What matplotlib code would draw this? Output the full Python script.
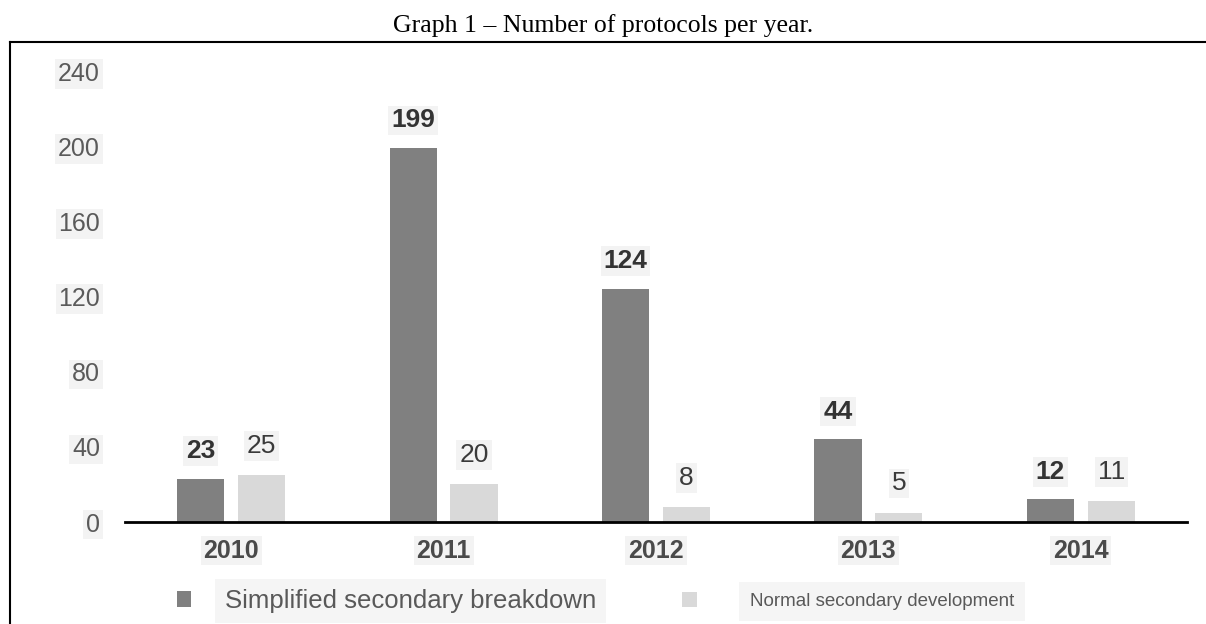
import matplotlib
matplotlib.use("Agg")
import matplotlib.pyplot as plt
import numpy as np
from matplotlib.lines import Line2D

years = ["2010", "2011", "2012", "2013", "2014"]
simplified = [23, 199, 124, 44, 12]
normal = [25, 20, 8, 5, 11]
yticks = [0, 40, 80, 120, 160, 200, 240]
series_names = ["Simplified secondary breakdown", "Normal secondary development"]
title = "Graph 1 \u2013 Number of protocols per year."

DARK = "#808080"
LIGHT = "#d9d9d9"
LBG = "#f3f3f3"

plt.rcParams["font.family"] = ["Liberation Sans", "DejaVu Sans"]

W, H = 1206, 624
fig = plt.figure(figsize=(W / 100, H / 100), dpi=100)
ax = fig.add_axes([125 / W, 1 - 522 / H, (1187 - 125) / W, (522 - 60) / H])

x = np.arange(len(years))
bw = 0.222
off = 0.143
b1 = ax.bar(x - off, simplified, bw, color=DARK, label=series_names[0])
b2 = ax.bar(x + off, normal, bw, color=LIGHT, label=series_names[1])

ax.set_xlim(-0.5, 4.5)
ax.set_ylim(0, 246)

for rect, v in zip(b1, simplified):
    ax.annotate(str(v), (rect.get_x() + rect.get_width() / 2, v), xytext=(0, 20),
                textcoords="offset points", ha="center", va="center",
                fontsize=19, fontweight="bold", color="#333333",
                bbox=dict(facecolor=LBG, edgecolor="none", pad=2))
for rect, v in zip(b2, normal):
    ax.annotate(str(v), (rect.get_x() + rect.get_width() / 2, v), xytext=(0, 21),
                textcoords="offset points", ha="center", va="center",
                fontsize=19, color="#3a3a3a",
                bbox=dict(facecolor=LBG, edgecolor="none", pad=2))

for s in ["top", "right", "left"]:
    ax.spines[s].set_visible(False)
ax.spines["bottom"].set_linewidth(2)
ax.spines["bottom"].set_color("black")

ax.set_yticks(yticks)
ax.set_yticklabels([str(t) for t in yticks])
ax.set_xticks(x)
ax.set_xticklabels(years)
ax.tick_params(axis="y", length=0, pad=18, labelsize=18, labelcolor="#5a5a5a")
ax.tick_params(axis="x", length=0, pad=12, labelsize=18, labelcolor="#4a4a4a")
for t in ax.get_xticklabels():
    t.set_fontweight("bold")
    t.set_bbox(dict(facecolor=LBG, edgecolor="none", pad=2))
for t in ax.get_yticklabels():
    t.set_bbox(dict(facecolor=LBG, edgecolor="none", pad=2))

# legends
leg1 = fig.legend(handles=[b1], labels=[series_names[0]], loc="center left",
                  bbox_to_anchor=(164 / W, 1 - 601 / H), frameon=False,
                  fontsize=18.5, handlelength=0.55, handleheight=0.55,
                  handletextpad=1.32, labelcolor="#595959", borderpad=0)
leg1.get_texts()[0].set_bbox(dict(facecolor="#f5f5f5", edgecolor="none", pad=7))
leg2 = fig.legend(handles=[b2], labels=[series_names[1]], loc="center left",
                  bbox_to_anchor=(673 / W, 1 - 601 / H), frameon=False,
                  fontsize=13.5, handlelength=0.8, handleheight=0.8,
                  handletextpad=2.8, labelcolor="#595959", borderpad=0)
leg2.get_texts()[0].set_bbox(dict(facecolor="#f5f5f5", edgecolor="none", pad=8))
fig.add_artist(leg1)

# title and frame
fig.text(0.5, 1 - 26 / H, title, ha="center", va="center",
         fontsize=18.5, family=["Liberation Serif", "DejaVu Serif"], color="black")
fig.add_artist(Line2D([10 / W, 1.0], [1 - 42 / H, 1 - 42 / H], transform=fig.transFigure,
                      color="black", lw=1.5))
fig.add_artist(Line2D([10 / W, 10 / W], [1 - 42 / H, 0], transform=fig.transFigure,
                      color="black", lw=1.5))

fig.savefig("out.png", dpi=100)
